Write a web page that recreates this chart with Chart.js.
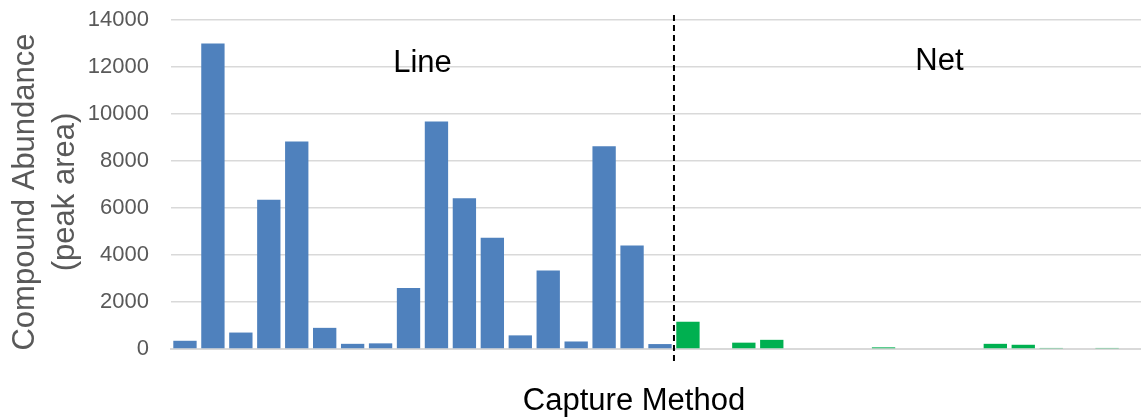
<!DOCTYPE html>
<html>
<head>
<meta charset="utf-8">
<script src="https://cdn.jsdelivr.net/npm/chart.js@4"></script>
<style>
  html, body { margin: 0; padding: 0; background: #fff; overflow: hidden; }
  #wrap { width: 1149px; height: 420px; position: relative; }
</style>
</head>
<body>
<div id="wrap"><canvas id="chart"></canvas></div>
<script>
// Datos
const lineValues = [350, 13000, 700, 6350, 8830, 900, 220, 240, 2600, 9680, 6420, 4730, 580, 3340, 320, 8630, 4400, 210];
const netValues = [1160, 0, 270, 390, 0, 0, 0, 70, 0, 0, 0, 220, 180, 45, 0, 45, 0];
const yTicks = [0, 2000, 4000, 6000, 8000, 10000, 12000, 14000];
const groupNames = ['Line', 'Net'];
const yTitle = ['Compound Abundance', '(peak area)'];
const xTitle = 'Capture Method';

const FONT = "'Liberation Sans', Arial, sans-serif";
const BLUE = '#4F81BD';
const GREEN = '#00B050';
const GREY = '#595959';

const labels = [
    ...lineValues.map((_, i) => 'Line ' + (i + 1)),
    ...netValues.map((_, i) => 'Net ' + (i + 1))
];
const values = [...lineValues, ...netValues];
const colors = [...lineValues.map(() => BLUE), ...netValues.map(() => GREEN)];

// Anotaciones: línea punteada, nombres de grupo y títulos de ejes
const annotations = {
    id: 'annotations',
    afterDatasetsDraw(chart) {
        const { ctx, scales: { x } } = chart;
        const n = lineValues.length;
        const sep = (x.getPixelForValue(n - 1) + x.getPixelForValue(n)) / 2;

        ctx.save();
        ctx.strokeStyle = '#000';
        ctx.lineWidth = 2;
        ctx.setLineDash([6, 4]);
        ctx.beginPath();
        ctx.moveTo(sep, 15);
        ctx.lineTo(sep, 361);
        ctx.stroke();
        ctx.setLineDash([]);

        ctx.fillStyle = '#000';
        ctx.font = '31px ' + FONT;
        ctx.textAlign = 'center';
        ctx.textBaseline = 'alphabetic';
        const lineCenter = (x.getPixelForValue(0) + x.getPixelForValue(n - 1)) / 2;
        ctx.fillText(groupNames[0], lineCenter, 72);
        ctx.fillText(groupNames[1], x.getPixelForValue(n + 9), 70);

        ctx.fillText(xTitle, 634, 410);

        ctx.fillStyle = GREY;
        ctx.textBaseline = 'middle';
        ctx.translate(25, 192);
        ctx.rotate(-Math.PI / 2);
        ctx.fillText(yTitle[0], 0, 0);
        ctx.fillText(yTitle[1], 0, 40);
        ctx.restore();
    }
};

new Chart(document.getElementById('chart'), {
    type: 'bar',
    data: {
        labels: labels,
        datasets: [{
            data: values,
            backgroundColor: colors,
            borderWidth: 0,
            categoryPercentage: 1,
            barPercentage: 0.835
        }]
    },
    options: {
        responsive: true,
        maintainAspectRatio: false,
        animation: false,
        layout: { padding: { top: 20, right: 0, bottom: 63, left: 0 } },
        plugins: {
            legend: { display: false },
            tooltip: { enabled: false }
        },
        scales: {
            x: {
                grid: { display: false },
                border: { color: '#D9D9D9', width: 2 },
                ticks: { display: false }
            },
            y: {
                min: 0,
                max: 14000,
                afterBuildTicks: (scale) => {
                    scale.ticks = yTicks.map(v => ({ value: v }));
                },
                afterFit: (scale) => {
                    scale.width = 171;
                    scale.paddingTop = 0;
                    scale.paddingBottom = 0;
                },
                grid: { color: '#D9D9D9', lineWidth: 1.5, drawTicks: false },
                border: { display: false },
                ticks: {
                    color: GREY,
                    padding: 22,
                    font: { family: FONT, size: 22 },
                    callback: (v) => String(v)
                }
            }
        }
    },
    plugins: [annotations]
});
</script>
</body>
</html>
